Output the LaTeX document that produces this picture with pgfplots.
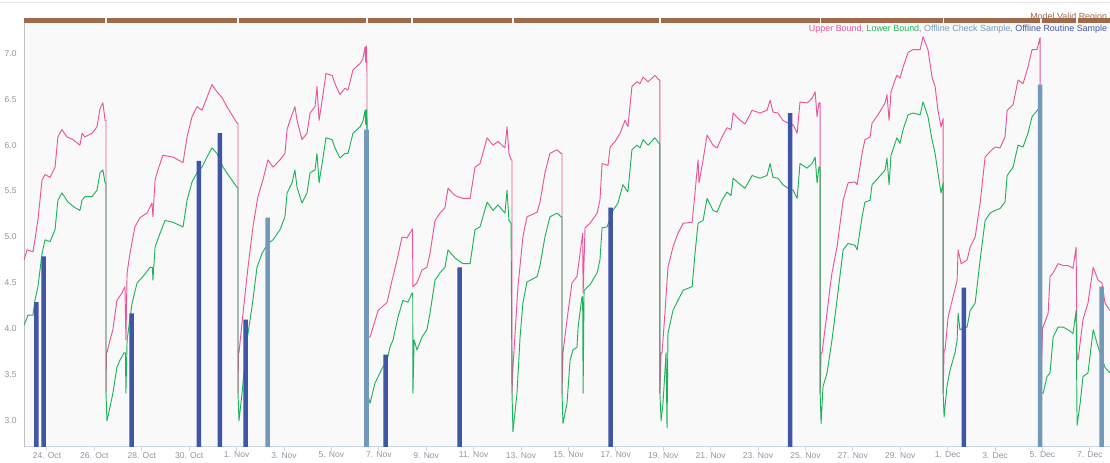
\documentclass[border=0pt]{standalone}
\usepackage{pgfplots}
\pgfplotsset{compat=1.18}
\usepackage{fontspec}
\setmainfont{Liberation Sans}
\definecolor{upperc}{HTML}{E8559A}
\definecolor{lowerc}{HTML}{1DB35B}
\definecolor{checkc}{HTML}{7399BA}
\definecolor{routinec}{HTML}{3F55A5}
\definecolor{bandc}{HTML}{A0694A}
\definecolor{tickc}{HTML}{8F96A0}
\definecolor{xaxc}{HTML}{CCD6EB}
\definecolor{yaxc}{HTML}{C0C0C0}
\definecolor{bgc}{HTML}{F9F9F9}
\begin{document}
\begin{tikzpicture}
\begin{axis}[
  name=main,
  at={(0,0)}, anchor=south west,
  scale only axis, width=814.5pt, height=318.2pt,
  xmin=-0.97, xmax=44.85, ymin=2.714, ymax=7.333,
  axis background/.style={fill=bgc},
  axis lines=left, axis line style={-},
  x axis line style={draw=xaxc, line width=0.75pt},
  y axis line style={draw=yaxc, line width=0.75pt},
  tick align=outside, major tick length=3pt,
  xtick style={draw=xaxc, line width=0.75pt},
  ytick style={draw=none},
  xtick={0,2,...,44},
  xticklabels={24. Oct, 26. Oct, 28. Oct, 30. Oct, 1. Nov, 3. Nov, 5. Nov, 7. Nov, 9. Nov, 11. Nov, 13. Nov, 15. Nov, 17. Nov, 19. Nov, 21. Nov, 23. Nov, 25. Nov, 27. Nov, 29. Nov, 1. Dec, 3. Dec, 5. Dec, 7. Dec},
  ytick={3.0,3.5,...,7.0},
  /pgf/number format/assume math mode=true,
  yticklabel style={/pgf/number format/fixed, /pgf/number format/precision=1, /pgf/number format/fixed zerofill},
  tick label style={font=\fontsize{6.4}{7.5}\selectfont, text=tickc, inner sep=0pt},
  yticklabel style={anchor=east, xshift=-2.4pt},
  xticklabel style={anchor=north, yshift=-0.6pt},
]
% Upper bound
\addplot[upperc, line width=0.7pt, line join=round, mark=none] coordinates {
(-0.97,4.75) (-0.84,4.86) (-0.59,4.84) (-0.51,4.97) (-0.38,5.19) (-0.21,5.62) (-0.08,5.68) (0.13,5.65) (0.34,5.76) (0.46,6.09) (0.63,6.17) (0.84,6.09) (1.10,6.06) (1.39,6.00) (1.48,6.13) (1.60,6.09) (1.90,6.13) (2.11,6.20) (2.24,6.40) (2.36,6.46) (2.45,6.27) (2.49,6.27) (2.49,3.30) (2.51,3.74)
(2.53,3.74) (2.66,3.88) (2.78,3.99) (2.95,4.31) (3.16,4.39) (3.29,4.46) (3.33,3.88) (3.38,4.61) (3.50,4.82) (3.71,5.11) (3.92,5.21) (4.22,5.26) (4.43,5.37) (4.47,5.22) (4.56,5.62) (4.68,5.73) (4.89,5.89) (5.32,5.87) (5.74,5.81) (5.91,6.09) (6.12,6.31) (6.33,6.42) (6.54,6.38) (6.75,6.52) (6.96,6.66) (7.17,6.58) (7.38,6.52) (7.59,6.42) (7.85,6.31) (8.02,6.24) (8.06,6.24) (8.06,3.30) (8.08,3.74)
(8.10,3.74) (8.27,4.17) (8.48,4.67) (8.69,5.11) (8.90,5.44) (9.11,5.62) (9.32,5.84) (9.54,5.76) (9.83,5.84) (10.04,5.91) (10.13,6.17) (10.25,6.27) (10.46,6.42) (10.55,6.27) (10.76,6.06) (10.97,6.13) (11.10,6.35) (11.31,6.42) (11.39,6.64) (11.48,6.27) (11.65,6.56) (11.77,6.78) (12.03,6.76) (12.15,6.67) (12.36,6.55) (12.57,6.62) (12.70,6.60) (12.91,6.82) (13.21,6.89) (13.33,6.94) (13.42,7.07) (13.45,6.90) (13.48,7.08) (13.50,6.82) (13.52,3.30) (13.55,3.91)
(13.63,3.91) (13.97,4.20) (14.35,4.29) (14.56,4.53) (14.77,4.75) (14.98,5.00) (15.19,4.99) (15.40,5.08) (15.42,5.09) (15.44,4.46) (15.61,4.50) (15.82,4.64) (16.03,4.67) (16.16,4.82) (16.37,5.18) (16.58,5.26) (16.79,5.32) (16.92,5.53) (17.22,5.45) (17.55,5.42) (17.85,5.42) (18.06,5.76) (18.27,5.80) (18.57,6.08) (18.82,6.00) (19.03,6.04) (19.32,5.97) (19.41,6.20) (19.49,5.91) (19.58,5.84) (19.62,5.84) (19.62,3.30) (19.66,3.58)
(19.87,4.46) (20.08,5.00) (20.25,5.22) (20.68,5.27) (20.80,5.38) (21.01,5.70) (21.22,5.91) (21.52,5.95) (21.69,5.91) (21.73,5.91) (21.73,3.30) (21.77,3.74)
(21.94,4.10) (22.15,4.50) (22.36,4.57) (22.49,4.82) (22.60,5.04) (22.62,4.39) (22.70,5.10) (22.91,5.15) (23.21,5.26) (23.33,5.40) (23.42,5.80) (23.67,5.78) (23.76,5.98) (23.97,6.04) (24.18,6.13) (24.39,6.27) (24.51,6.20) (24.68,6.64) (24.89,6.69) (25.02,6.67) (25.15,6.74) (25.36,6.69) (25.65,6.76) (25.82,6.71) (25.86,6.71) (25.86,3.30) (25.91,3.74)
(25.95,3.74) (26.08,4.20) (26.20,4.67) (26.41,4.89) (26.62,5.04) (26.84,5.15) (27.22,5.16) (27.34,5.48) (27.47,5.84) (27.51,5.59) (27.68,5.84) (27.85,6.11) (28.10,6.00) (28.27,5.97) (28.48,6.09) (28.69,6.19) (28.86,6.17) (28.95,6.35) (29.16,6.29) (29.45,6.23) (29.75,6.38) (30.08,6.35) (30.38,6.38) (30.51,6.49) (30.63,6.36) (30.84,6.35) (31.05,6.27) (31.27,6.24) (31.48,6.22) (31.65,6.13) (31.77,6.47) (32.07,6.46) (32.28,6.51) (32.41,6.58) (32.49,6.31) (32.57,6.46) (32.62,6.46) (32.62,3.30) (32.66,3.74)
(32.70,3.74) (32.91,4.17) (33.04,4.46) (33.12,4.61) (33.33,4.89) (33.59,5.40) (33.80,5.59) (34.09,5.60) (34.18,5.57) (34.39,5.91) (34.51,6.06) (34.73,6.09) (34.81,6.24) (35.06,6.33) (35.36,6.46) (35.44,6.55) (35.53,6.27) (35.61,6.58) (35.78,6.71) (35.86,6.76) (35.99,6.73) (36.12,6.85) (36.33,7.01) (36.54,7.04) (36.84,7.04) (36.96,7.18) (37.17,7.04) (37.34,6.74) (37.47,6.64) (37.59,6.38) (37.72,6.20) (37.81,6.29) (37.81,3.30) (37.85,3.77)
(37.89,3.77) (38.02,4.13) (38.23,4.35) (38.40,4.53) (38.44,4.86) (38.57,4.71) (38.82,4.75) (38.95,4.89) (39.16,5.00) (39.37,5.37) (39.58,5.87) (39.79,5.93) (40.00,5.98) (40.21,5.97) (40.42,6.09) (40.51,6.38) (40.76,6.44) (40.97,6.71) (41.18,6.67) (41.39,6.85) (41.56,7.04) (41.77,7.04) (41.90,7.17) (41.92,3.30) (42.01,4.02)
(42.03,4.02) (42.24,4.17) (42.32,4.57) (42.45,4.61) (42.66,4.71) (42.87,4.69) (43.08,4.69) (43.29,4.66) (43.42,4.89) (43.46,3.70) (43.50,3.66) (43.71,4.10) (43.92,4.28) (44.14,4.67) (44.35,4.53) (44.51,4.50) (44.64,4.28) (44.85,4.20)
};
% Lower bound
\addplot[lowerc, line width=0.7pt, line join=round, mark=none] coordinates {
(-0.97,4.04) (-0.80,4.15) (-0.59,4.15) (-0.51,4.31) (-0.38,4.46) (-0.21,4.82) (-0.08,4.97) (0.13,4.95) (0.34,5.08) (0.46,5.40) (0.63,5.48) (0.89,5.38) (1.18,5.32) (1.39,5.29) (1.48,5.40) (1.60,5.44) (1.90,5.44) (2.11,5.51) (2.24,5.70) (2.36,5.73) (2.45,5.59) (2.49,5.59) (2.49,3.30) (2.53,3.00)
(2.66,3.15) (2.78,3.30) (2.95,3.58) (3.08,3.66) (3.25,3.74) (3.31,3.74) (3.33,3.30) (3.38,3.88) (3.59,4.28) (3.80,4.50) (4.05,4.57) (4.35,4.67) (4.45,4.67) (4.47,4.53) (4.56,4.89) (4.77,5.04) (4.98,5.18) (5.32,5.16) (5.74,5.11) (5.91,5.40) (6.12,5.60) (6.33,5.70) (6.54,5.76) (6.75,5.87) (6.96,5.97) (7.17,5.91) (7.43,5.76) (7.72,5.65) (8.02,5.54) (8.06,5.54) (8.06,3.30) (8.10,3.00)
(8.23,3.30) (8.44,3.88) (8.65,4.24) (8.86,4.67) (9.07,4.82) (9.32,4.93) (9.54,4.97) (9.83,5.08) (10.04,5.22) (10.13,5.48) (10.34,5.59) (10.46,5.73) (10.55,5.54) (10.76,5.37) (10.97,5.48) (11.10,5.70) (11.31,5.73) (11.39,5.91) (11.48,5.59) (11.65,5.87) (11.77,6.08) (12.03,6.06) (12.15,5.97) (12.36,5.86) (12.57,5.91) (12.70,5.91) (12.91,6.13) (13.21,6.20) (13.33,6.26) (13.42,6.38) (13.45,6.22) (13.48,6.39) (13.50,6.20) (13.52,3.30) (13.63,3.19)
(13.84,3.41) (14.14,3.57) (14.35,3.66) (14.47,3.80) (14.60,3.88) (14.81,4.13) (15.02,4.31) (15.23,4.29) (15.40,4.39) (15.43,4.39) (15.44,3.30) (15.49,3.88) (15.61,3.77) (15.82,3.91) (16.03,3.99) (16.16,4.17) (16.37,4.53) (16.58,4.61) (16.79,4.67) (16.92,4.86) (17.22,4.77) (17.55,4.71) (17.85,4.71) (18.06,5.08) (18.27,5.11) (18.57,5.38) (18.82,5.29) (19.03,5.35) (19.32,5.26) (19.41,5.51) (19.49,5.18) (19.58,5.15) (19.62,3.30) (19.66,2.88) (19.83,3.30)
(19.96,3.91) (20.08,4.28) (20.25,4.51) (20.68,4.57) (20.80,4.69) (21.01,5.00) (21.22,5.22) (21.52,5.26) (21.69,5.22) (21.73,5.22) (21.73,3.30) (21.77,2.97)
(21.94,3.19) (22.07,3.66) (22.19,3.77) (22.36,3.80) (22.41,4.02) (22.57,4.35) (22.60,4.35) (22.62,3.30) (22.66,4.42) (22.91,4.48) (23.21,4.61) (23.33,4.75) (23.42,5.10) (23.63,5.11) (23.88,5.29) (24.09,5.37) (24.30,5.57) (24.51,5.49) (24.68,5.95) (24.89,6.00) (25.02,5.97) (25.15,6.06) (25.36,6.00) (25.65,6.08) (25.82,6.02) (25.86,6.02) (25.86,3.30) (25.91,3.00)
(25.99,3.19) (26.12,3.74) (26.16,2.92) (26.20,3.95) (26.41,4.20) (26.62,4.31) (26.84,4.42) (27.22,4.46) (27.34,4.82) (27.47,5.15) (27.68,5.18) (27.85,5.42) (28.10,5.29) (28.27,5.27) (28.48,5.40) (28.69,5.49) (28.86,5.45) (28.95,5.64) (29.16,5.59) (29.45,5.53) (29.75,5.67) (30.08,5.64) (30.38,5.67) (30.51,5.80) (30.63,5.65) (30.84,5.64) (31.05,5.57) (31.27,5.53) (31.48,5.51) (31.65,5.42) (31.77,5.80) (32.07,5.75) (32.28,5.80) (32.41,5.87) (32.49,5.59) (32.57,5.76) (32.62,5.76) (32.62,3.30) (32.66,2.97)
(32.74,3.37) (32.91,3.52) (33.04,3.74) (33.12,3.88) (33.33,4.31) (33.59,4.86) (33.80,4.93) (34.09,4.91) (34.18,4.86) (34.39,5.22) (34.51,5.38) (34.73,5.40) (34.81,5.57) (35.06,5.64) (35.36,5.73) (35.44,5.86) (35.53,5.57) (35.61,5.89) (35.78,6.02) (35.86,6.08) (35.99,6.02) (36.12,6.17) (36.33,6.33) (36.54,6.35) (36.84,6.33) (36.96,6.47) (37.17,6.31) (37.34,6.06) (37.47,5.91) (37.59,5.70) (37.72,5.48) (37.81,5.59) (37.81,3.30) (37.85,3.04)
(37.97,3.37) (38.10,3.55) (38.31,3.74) (38.40,3.88) (38.44,4.17) (38.52,3.99) (38.82,4.02) (38.95,4.20) (39.16,4.28) (39.37,4.75) (39.58,5.18) (39.79,5.26) (40.00,5.29) (40.21,5.31) (40.42,5.38) (40.51,5.67) (40.76,5.76) (40.97,6.00) (41.18,5.98) (41.39,6.13) (41.56,6.31) (41.69,6.35) (41.85,6.40) (41.90,3.30) (42.03,3.30)
(42.19,3.48) (42.32,3.52) (42.45,3.91) (42.66,4.02) (42.87,4.02) (43.08,3.99) (43.29,3.95) (43.42,4.20) (43.45,3.30) (43.46,2.95) (43.59,3.19) (43.71,3.48) (43.92,3.52) (44.14,3.99) (44.35,3.80) (44.64,3.58) (44.85,3.52)
};
% Offline Routine Sample
\addplot[ybar, bar width=3.4pt, bar shift=0pt, fill=routinec, draw=none] coordinates {
(-0.45,4.29) (-0.14,4.79) (3.57,4.17) (6.41,5.83) (7.29,6.13) (8.38,4.10) (14.29,3.72) (17.41,4.67) (23.78,5.32) (31.35,6.35) (38.68,4.45)
};
% Offline Check Sample
\addplot[ybar, bar width=3.4pt, bar shift=0pt, fill=checkc, draw=none] coordinates {
(9.31,5.21) (13.48,6.17) (41.90,6.66) (44.50,4.46)
};
\end{axis}
% Model Valid Region band
\begin{axis}[
  at={(0,318.2pt)}, anchor=south west,
  scale only axis, width=814.5pt, height=3.3pt,
  xmin=-0.97, xmax=44.85, ymin=0, ymax=1,
  hide axis, clip=false,
]
\addplot[bandc, line width=3.3pt] coordinates {(-0.97,0.5) (2.465,0.5)};
\addplot[bandc, line width=3.3pt] coordinates {(2.515,0.5) (8.035,0.5)};
\addplot[bandc, line width=3.3pt] coordinates {(8.085,0.5) (13.475,0.5)};
\addplot[bandc, line width=3.3pt] coordinates {(13.525,0.5) (15.375,0.5)};
\addplot[bandc, line width=3.3pt] coordinates {(15.425,0.5) (19.635,0.5)};
\addplot[bandc, line width=3.3pt] coordinates {(19.685,0.5) (25.835,0.5)};
\addplot[bandc, line width=3.3pt] coordinates {(25.885,0.5) (32.595,0.5)};
\addplot[bandc, line width=3.3pt] coordinates {(32.645,0.5) (37.785,0.5)};
\addplot[bandc, line width=3.3pt] coordinates {(37.835,0.5) (41.915,0.5)};
\addplot[bandc, line width=3.3pt] coordinates {(41.965,0.5) (43.435,0.5)};
\addplot[bandc, line width=3.3pt] coordinates {(43.485,0.5) (44.85,0.5)};
\end{axis}
\draw[color=black!10, line width=0.75pt] (-18pt,333pt) -- (814.5pt,333pt);
\node[anchor=base east, inner sep=0pt, font=\fontsize{6.7}{7.5}\selectfont, text=bandc] at (812.5pt,320.6pt) {Model Valid Region};
\node[anchor=base east, inner sep=0pt, font=\fontsize{6.7}{7.5}\selectfont] at (812.5pt,311.25pt)
  {\textcolor{upperc}{Upper Bound}\textcolor{black!45}{, }\textcolor{lowerc}{Lower Bound}\textcolor{black!45}{, }\textcolor{checkc}{Offline Check Sample}\textcolor{black!45}{, }\textcolor{routinec}{Offline Routine Sample}};
\pgfresetboundingbox
\path[use as bounding box] (-18pt,-12pt) rectangle (814.5pt,335.25pt);
\end{tikzpicture}
\end{document}
